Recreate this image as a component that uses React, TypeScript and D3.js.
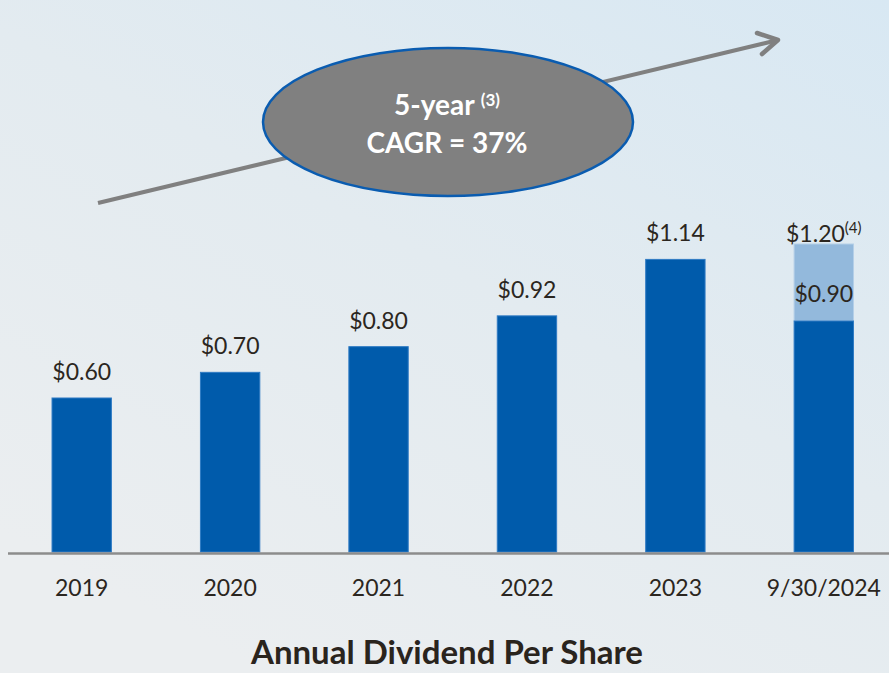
import React, { useEffect, useRef } from "react";
import * as d3 from "d3";

const categories = ["2019", "2020", "2021", "2022", "2023", "9/30/2024"];
const paid = [0.6, 0.7, 0.8, 0.92, 1.14, 0.9];
const annualized = [null, null, null, null, null, 1.2];
const valueLabels = ["$0.60", "$0.70", "$0.80", "$0.92", "$1.14", "$1.20"];
const footnote = "(4)";
const cagrLines = ["5-year", "CAGR = 37%"];
const cagrNote = "(3)";
const title = "Annual Dividend Per Share";

const W = 889;
const H = 673;
const FONT = "Lato, 'Open Sans', sans-serif";
const TEXT = "#2b2620";

export default function App() {
  const svgRef = useRef<SVGSVGElement>(null);

  useEffect(() => {
    document.body.style.margin = "0";
    drawChart();
  }, []);

  const drawChart = () => {
    const svg = d3.select(svgRef.current);
    svg.selectAll("*").remove();

    // background
    const defs = svg.append("defs");
    const grad = defs
      .append("linearGradient")
      .attr("id", "bg")
      .attr("x1", "1")
      .attr("y1", "0")
      .attr("x2", "0.3")
      .attr("y2", "1");
    grad.append("stop").attr("offset", "0").attr("stop-color", "#d8e8f3");
    grad.append("stop").attr("offset", "0.5").attr("stop-color", "#e3ebf0");
    grad.append("stop").attr("offset", "1").attr("stop-color", "#ebeef0");
    svg.append("rect").attr("width", W).attr("height", H).attr("fill", "url(#bg)");

    // scales
    const x = d3
      .scaleBand()
      .domain(categories)
      .range([7.5, 898])
      .paddingInner(0.6)
      .paddingOuter(0.3);
    const y = d3.scaleLinear().domain([0, 1.2]).range([552, 244]);

    const rows = categories.map((c, i) => ({
      cat: c,
      paid: paid[i],
      total: annualized[i],
      label: valueLabels[i],
    }));

    // annualized (light) part
    svg
      .selectAll("rect.light")
      .data(rows.filter((d) => d.total != null))
      .enter()
      .append("rect")
      .attr("class", "light")
      .attr("x", (d) => x(d.cat)!)
      .attr("y", (d) => y(d.total as number))
      .attr("width", x.bandwidth())
      .attr("height", (d) => y(d.paid) - y(d.total as number))
      .attr("fill", "#93b9dc")
      .attr("stroke", "#b4cfe8")
      .attr("stroke-width", 1);

    // paid bars
    svg
      .selectAll("rect.paid")
      .data(rows)
      .enter()
      .append("rect")
      .attr("class", "paid")
      .attr("x", (d) => x(d.cat)!)
      .attr("y", (d) => y(d.paid))
      .attr("width", x.bandwidth())
      .attr("height", (d) => y(0) - y(d.paid))
      .attr("fill", "#005bab")
      .attr("stroke", "#2f7bc4")
      .attr("stroke-width", 1);

    // x axis
    const axis = svg
      .append("g")
      .attr("transform", `translate(0,${y(0) + 1})`)
      .call(d3.axisBottom(x).tickSize(0).tickSizeOuter(0).tickPadding(27));
    axis.select(".domain").attr("stroke", "#8c8c8c").attr("stroke-width", 2.5);
    axis
      .selectAll("text")
      .attr("fill", TEXT)
      .style("font-family", FONT)
      .style("font-size", "23px");

    // value labels
    svg
      .selectAll("text.val")
      .data(rows)
      .enter()
      .append("text")
      .attr("class", "val")
      .attr("x", (d) => x(d.cat)! + x.bandwidth() / 2)
      .attr("y", (d) => (d.total != null ? y(d.total) - 2 : y(d.paid) - 18))
      .attr("text-anchor", "middle")
      .attr("fill", TEXT)
      .style("font-family", FONT)
      .style("font-size", "23px")
      .each(function (d) {
        const t = d3.select(this);
        t.append("tspan").text(d.label);
        if (d.total != null) {
          t.append("tspan")
            .attr("dy", -9)
            .style("font-size", "15px")
            .text(footnote);
        }
      });

    // paid-to-date label inside the annualized bar
    svg
      .selectAll("text.inner")
      .data(rows.filter((d) => d.total != null))
      .enter()
      .append("text")
      .attr("class", "inner")
      .attr("x", (d) => x(d.cat)! + x.bandwidth() / 2)
      .attr("y", (d) => y(d.paid) - 19)
      .attr("text-anchor", "middle")
      .attr("fill", TEXT)
      .style("font-family", FONT)
      .style("font-size", "23px")
      .text((d) => `$${d.paid.toFixed(2)}`);

    // growth arrow
    svg
      .append("line")
      .attr("x1", 98)
      .attr("y1", 203)
      .attr("x2", 778)
      .attr("y2", 40)
      .attr("stroke", "#808080")
      .attr("stroke-width", 4);
    svg
      .append("path")
      .attr("d", "M757,33 L778,40 L762,54")
      .attr("fill", "none")
      .attr("stroke", "#808080")
      .attr("stroke-width", 4.5)
      .attr("stroke-linecap", "round")
      .attr("stroke-linejoin", "round");

    // CAGR bubble
    svg
      .append("ellipse")
      .attr("cx", 448)
      .attr("cy", 122)
      .attr("rx", 185)
      .attr("ry", 74)
      .attr("fill", "#808080")
      .attr("stroke", "#0a5cb0")
      .attr("stroke-width", 2.5);
    const bubble = svg
      .append("text")
      .attr("text-anchor", "middle")
      .attr("fill", "#ffffff")
      .style("font-family", FONT)
      .style("font-weight", "bold")
      .style("font-size", "28px");
    const l1 = bubble.append("tspan").attr("x", 447).attr("y", 115);
    l1.append("tspan").text(cagrLines[0] + " ");
    l1.append("tspan").attr("dy", -9).style("font-size", "17px").text(cagrNote);
    bubble.append("tspan").attr("x", 447).attr("y", 153).text(cagrLines[1]);

    // title
    svg
      .append("text")
      .attr("x", 447)
      .attr("y", 664)
      .attr("text-anchor", "middle")
      .attr("fill", "#2a241d")
      .style("font-family", FONT)
      .style("font-weight", "bold")
      .style("font-size", "33px")
      .text(title);
  };

  return <svg ref={svgRef} width={W} height={H} style={{ display: "block" }}></svg>;
}
